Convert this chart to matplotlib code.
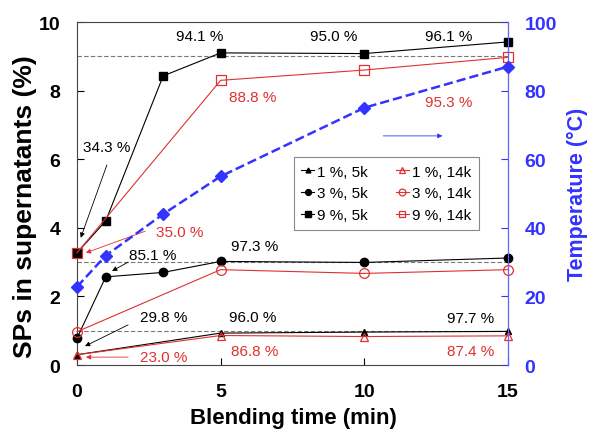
import matplotlib
matplotlib.use('Agg')
import matplotlib.pyplot as plt

plt.rcParams['font.family'] = ['Liberation Sans', 'DejaVu Sans']

# blending time (min)
t_5k = [0, 1, 3, 5, 10, 15]
t_14k = [0, 5, 10, 15]
t_1_5k = [0, 5, 10, 15]

# SPs in supernatants (%)
sp1_5k = [0.30, 0.93, 0.96, 0.98]
sp3_5k = [0.78, 2.57, 2.70, 3.02, 2.99, 3.12]
sp9_5k = [3.27, 4.20, 8.43, 9.10, 9.08, 9.42]
sp1_14k = [0.30, 0.86, 0.83, 0.85]
sp3_14k = [0.97, 2.78, 2.67, 2.78]
sp9_14k = [3.27, 8.30, 8.60, 8.97]

# temperature (C)
t_temp = [0, 1, 3, 5, 10, 15]
temp = [22.8, 31.9, 44.0, 55.0, 75.0, 87.0]

ref_levels = [1, 3, 9]

RED = '#e03030'
BLUE = '#3333ff'

fig = plt.figure(figsize=(5.9, 4.31), dpi=100)
ax = fig.add_axes([0.1305, 0.1508, 0.7305, 0.7958])
ax2 = ax.twinx()

for lv in ref_levels:
    ax.axhline(lv, color='#777777', lw=0.8, ls=(0, (4, 2)), zorder=1)

kw = dict(lw=0.8, clip_on=False, zorder=3)
ax.plot(t_1_5k, sp1_5k, color='black', marker='^', ms=5, label='1 %, 5k', **kw)
ax.plot(t_5k, sp3_5k, color='black', marker='o', ms=6, label='3 %, 5k', **kw)
ax.plot(t_5k, sp9_5k, color='black', marker='s', ms=6, label='9 %, 5k', **kw)
kw2 = dict(lw=0.8, clip_on=False, zorder=4, mfc='none', mew=0.9)
ax.plot(t_14k, sp1_14k, color=RED, marker='^', ms=6, label='1 %, 14k', **kw2)
ax.plot(t_14k, sp3_14k, color=RED, marker='o', ms=7, label='3 %, 14k', **kw2)
ax.plot(t_14k, sp9_14k, color=RED, marker='s', ms=7, label='9 %, 14k', **kw2)

ax2.plot(t_temp, temp, color=BLUE, ls='--', lw=1.8, marker='D', ms=6,
         clip_on=False, zorder=5)

ax.set_xlim(0, 15)
ax.set_ylim(0, 10)
ax2.set_ylim(0, 100)
ax.set_xticks([0, 5, 10, 15])
ax.set_yticks([0, 2, 4, 6, 8, 10])
ax2.set_yticks([0, 20, 40, 60, 80, 100])

ax.tick_params(direction='in', length=5, width=0.8, labelsize=14)
ax.tick_params(axis='x', pad=13)
ax.tick_params(axis='y', pad=12)
for lab in ax.get_xticklabels() + ax.get_yticklabels():
    lab.set_fontweight('bold')
ax2.tick_params(direction='in', length=5, width=0.8, labelsize=14, pad=12,
                colors=BLUE)
for lab in ax2.get_yticklabels():
    lab.set_fontweight('bold')

for sp in ['left', 'bottom', 'top']:
    ax.spines[sp].set_color('#444444')
ax2.spines['right'].set_color('#6666ff')
ax2.spines['left'].set_visible(False)
ax2.spines['top'].set_visible(False)
ax2.spines['bottom'].set_visible(False)

ax.set_xlabel('Blending time (min)', fontsize=16, fontweight='bold')
ax.xaxis.set_label_coords(0.503, -0.122)
ax.set_ylabel('SPs in supernatants (%)', fontsize=19, fontweight='bold')
ax.yaxis.set_label_coords(-0.093, 0.464)
ax2.set_ylabel('Temperature (\u00b0C)', fontsize=15.5, fontweight='bold', color=BLUE)
ax2.yaxis.set_label_coords(1.137, 0.499)

# annotations
fs = 11
black_txt = [('94.1 %', 4.28, 9.59), ('95.0 %', 8.92, 9.59), ('96.1 %', 12.93, 9.59),
             ('34.3 %', 1.03, 6.36), ('85.1 %', 2.65, 3.2), ('97.3 %', 6.17, 3.47),
             ('29.8 %', 3.0, 1.4), ('96.0 %', 6.13, 1.4), ('97.7 %', 13.7, 1.37)]
red_txt = [('88.8 %', 6.13, 7.81), ('95.3 %', 12.93, 7.66), ('35.0 %', 3.59, 3.88),
           ('23.0 %', 3.0, 0.23), ('86.8 %', 6.17, 0.41), ('87.4 %', 13.7, 0.41)]
for s, x, y in black_txt:
    ax.text(x, y, s, fontsize=fs, ha='center', va='center', color='black', zorder=6)
for s, x, y in red_txt:
    ax.text(x, y, s, fontsize=fs, ha='center', va='center', color=RED, zorder=6)

arrows = [((1.04, 5.83), (0.13, 3.71), 'black'),
          ((1.78, 3.0), (1.22, 2.74), 'black'),
          ((1.78, 1.17), (0.28, 0.55), 'black'),
          ((2.37, 3.9), (0.31, 3.27), RED),
          ((1.78, 0.23), (0.31, 0.23), RED),
          ((10.66, 6.68), (12.72, 6.68), BLUE)]
for start, end, c in arrows:
    ax.annotate('', xy=end, xytext=start,
                arrowprops=dict(arrowstyle='-|>', color=c, lw=0.6,
                                mutation_scale=7, shrinkA=0, shrinkB=0),
                zorder=6)

leg = ax2.legend(*ax.get_legend_handles_labels(), ncol=2, loc='upper left',
                 bbox_to_anchor=(0.503, 0.606), borderaxespad=0, fontsize=11,
                 handlelength=0.85, handletextpad=0.2, columnspacing=1.8,
                 labelspacing=0.5, borderpad=0.5, fancybox=False,
                 edgecolor='#888888', framealpha=1, markerscale=0.7)
leg.get_frame().set_linewidth(0.8)
leg.set_zorder(10)

fig.savefig('out.png', dpi=100)
